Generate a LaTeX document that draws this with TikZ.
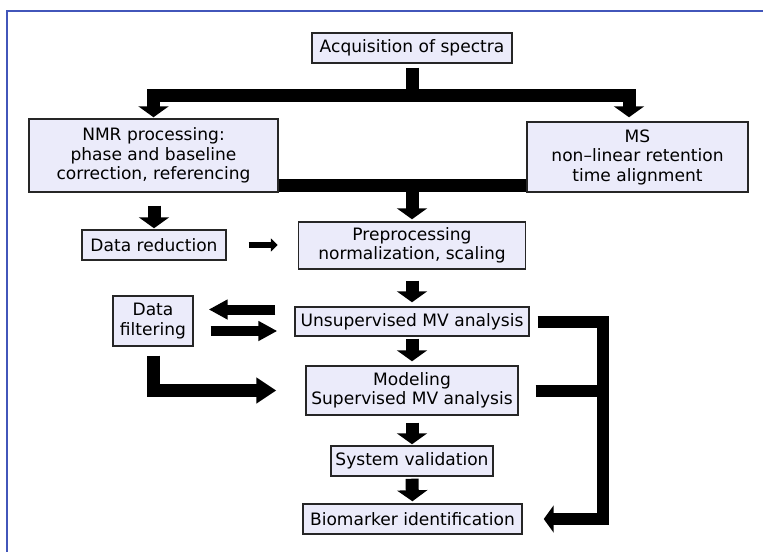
\documentclass[tikz,border=0pt]{standalone}
\usepackage{fontspec}
\setmainfont{DejaVu Sans}
\usetikzlibrary{arrows.meta,calc}

\definecolor{frameblue}{RGB}{66,86,186}
\definecolor{boxfill}{RGB}{235,235,250}

\tikzset{every picture/.style={line width=0.75pt}}
\tikzset{
  stagebox/.style={draw=black!85, fill=boxfill, line width=1.1pt, align=center,
    inner sep=0pt, font=\fontsize{12.8}{14.6}\selectfont},
  fatline/.style={line width=9.75pt, line join=miter, line cap=butt},
  fatarrow/.style={fatline, -{Triangle[length=8.25pt,width=22.5pt]}},
  thinarrow/.style={line width=4.5pt, -{Triangle[length=5.25pt,width=9.75pt]}},
  midarrow/.style={line width=7.5pt, -{Triangle[length=14.25pt,width=14.25pt]}},
  bendarrow/.style={fatline, -{Triangle[length=15pt,width=18.75pt]}},
  railarrow/.style={line width=9pt, line join=miter, -{Triangle[length=7.5pt,width=20.25pt]}}
}

\begin{document}
\begin{tikzpicture}[x=0.75pt,y=0.75pt,yscale=-1]
\useasboundingbox (0,0) rectangle (763,552);

%Outer frame
\draw[frameblue, line width=1.5pt] (7,552) -- (7,11) -- (763,11);

% Stage boxes
\node[stagebox, minimum width=150pt, minimum height=22.5pt] (acq) at (412,48) {Acquisition of spectra};
\node[stagebox, minimum width=186.75pt, minimum height=54.75pt] (nmr) at (153.5,155.5) {NMR processing:\\phase and baseline\\correction, referencing};
\node[stagebox, minimum width=165.75pt, minimum height=52.5pt] (ms) at (637.5,157) {MS\\non--linear retention\\time alignment};
\node[stagebox, minimum width=108pt, minimum height=22.5pt] (red) at (154,245) {Data reduction};
\node[stagebox, minimum width=170.25pt, minimum height=35.25pt] (pre) at (412,245.5) {Preprocessing\\normalization, scaling};
\node[stagebox, minimum width=60pt, minimum height=37.5pt] (filt) at (153,321) {Data\\filtering};
\node[stagebox, minimum width=175.5pt, minimum height=21.75pt] (unsup) at (412,321.5) {Unsupervised MV analysis};
\node[stagebox, minimum width=159pt, minimum height=36.75pt] (model) at (412,390.5) {Modeling\\Supervised MV analysis};
\node[stagebox, minimum width=121.5pt, minimum height=22.5pt] (sysval) at (412,461) {System validation};
\node[stagebox, minimum width=164.25pt, minimum height=22.5pt] (bio) at (412.5,519) {Biomarker identification};

% Junction points
\coordinate (split) at (412,95.5);
\coordinate (midbar) at (412,185.5);
\coordinate (rail) at (602.5,0);

% Spectra split into NMR and MS
\draw[fatline, shorten <=3pt] (acq.south) -- (split);
\draw[fatarrow, shorten >=0.75pt] (split) -| (nmr.north);
\draw[fatarrow, shorten >=3pt] (split) -| ($(ms.north)+(-8.5,0)$);

% NMR and MS merge into preprocessing
\draw[fatline] (nmr.east |- midbar) -- (ms.west |- midbar);
\draw[fatarrow, shorten >=1.5pt] (pre.north |- midbar) -- (pre.north);
\draw[fatarrow, shorten <=9.75pt, shorten >=0.75pt] (nmr.south -| red.north) -- (red.north);
\draw[thinarrow, shorten <=16.5pt, shorten >=15pt] (red.east) -- (red.east -| pre.west);

% Main chain
\draw[fatarrow, shorten <=8.25pt, shorten >=3pt] (pre.south) -- (unsup.north);
\draw[fatarrow, shorten <=1.5pt, shorten >=3pt] (unsup.south) -- (model.north);
\draw[fatarrow, shorten <=5.25pt, shorten >=0.75pt] (model.south) -- (sysval.north);
\draw[fatarrow, shorten <=1.5pt, shorten >=1.5pt] (sysval.south) -- (bio.north);

% Data filtering loop
\draw[midarrow, shorten <=14.25pt, shorten >=11.25pt] ($(unsup.west)+(0,-12)$) -- ($(filt.east)+(0,-11.5)$);
\draw[midarrow, shorten <=12.75pt, shorten >=12.75pt] ($(filt.east)+(0,10)$) -- ($(unsup.west)+(0,9.5)$);
\draw[bendarrow, shorten <=6.75pt, shorten >=21.75pt] (filt.south) |- (model.west);

% Bracket to biomarker identification
\draw[railarrow, shorten <=6pt, shorten >=15.75pt] (unsup.east) -- (unsup.east -| rail) -- (bio.east -| rail) -- (bio.east);
\draw[fatline, line width=9pt, shorten <=12.75pt] (model.east) -- (model.east -| rail);

\end{tikzpicture}
\end{document}
